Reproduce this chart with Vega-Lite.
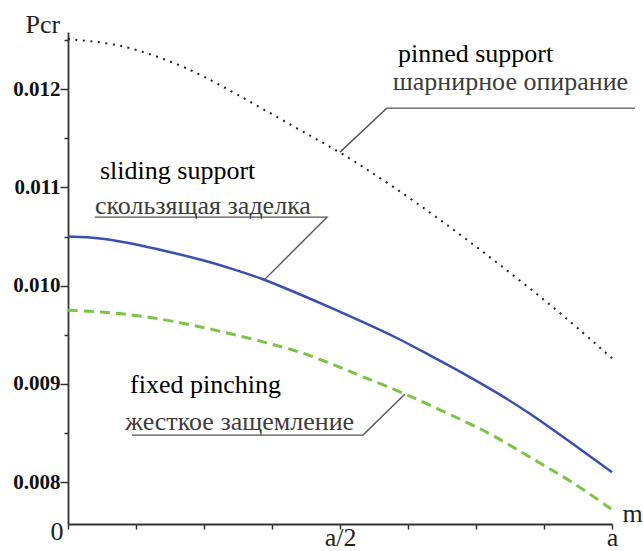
{
  "$schema": "https://vega.github.io/schema/vega-lite/v6.json",
  "autosize": "none",
  "width": 544,
  "height": 492,
  "padding": {"left": 68, "top": 32, "right": 31, "bottom": 27},
  "background": "white",
  "config": {"view": {"stroke": null}},
  "datasets": {
    "curves": [
      {"series": "pinned", "m": 0, "pcr": 0.01251},
      {"series": "pinned", "m": 0.08, "pcr": 0.01247},
      {"series": "pinned", "m": 0.14, "pcr": 0.01238},
      {"series": "pinned", "m": 0.2, "pcr": 0.01226},
      {"series": "pinned", "m": 0.25, "pcr": 0.01213},
      {"series": "pinned", "m": 0.31, "pcr": 0.01195},
      {"series": "pinned", "m": 0.38, "pcr": 0.01173},
      {"series": "pinned", "m": 0.45, "pcr": 0.01151},
      {"series": "pinned", "m": 0.5, "pcr": 0.01136},
      {"series": "pinned", "m": 0.59, "pcr": 0.01104},
      {"series": "pinned", "m": 0.69, "pcr": 0.01065},
      {"series": "pinned", "m": 0.79, "pcr": 0.01023},
      {"series": "pinned", "m": 0.9, "pcr": 0.00975},
      {"series": "pinned", "m": 1.0, "pcr": 0.00926},
      {"series": "sliding", "m": 0, "pcr": 0.0105},
      {"series": "sliding", "m": 0.055, "pcr": 0.01049},
      {"series": "sliding", "m": 0.108, "pcr": 0.01044},
      {"series": "sliding", "m": 0.182, "pcr": 0.01035},
      {"series": "sliding", "m": 0.248, "pcr": 0.01026},
      {"series": "sliding", "m": 0.303, "pcr": 0.01017},
      {"series": "sliding", "m": 0.358, "pcr": 0.01007},
      {"series": "sliding", "m": 0.414, "pcr": 0.00994},
      {"series": "sliding", "m": 0.482, "pcr": 0.00978},
      {"series": "sliding", "m": 0.542, "pcr": 0.00963},
      {"series": "sliding", "m": 0.605, "pcr": 0.00947},
      {"series": "sliding", "m": 0.665, "pcr": 0.00929},
      {"series": "sliding", "m": 0.726, "pcr": 0.00911},
      {"series": "sliding", "m": 0.789, "pcr": 0.00891},
      {"series": "sliding", "m": 0.849, "pcr": 0.0087},
      {"series": "sliding", "m": 0.91, "pcr": 0.00846},
      {"series": "sliding", "m": 1.0, "pcr": 0.0081},
      {"series": "fixed", "m": 0, "pcr": 0.00975},
      {"series": "fixed", "m": 0.077, "pcr": 0.00973},
      {"series": "fixed", "m": 0.151, "pcr": 0.00968},
      {"series": "fixed", "m": 0.23, "pcr": 0.0096},
      {"series": "fixed", "m": 0.322, "pcr": 0.00948},
      {"series": "fixed", "m": 0.421, "pcr": 0.00934},
      {"series": "fixed", "m": 0.482, "pcr": 0.00921},
      {"series": "fixed", "m": 0.542, "pcr": 0.00907},
      {"series": "fixed", "m": 0.616, "pcr": 0.00891},
      {"series": "fixed", "m": 0.697, "pcr": 0.0087},
      {"series": "fixed", "m": 0.776, "pcr": 0.0085},
      {"series": "fixed", "m": 0.849, "pcr": 0.00825},
      {"series": "fixed", "m": 0.923, "pcr": 0.00802},
      {"series": "fixed", "m": 1.0, "pcr": 0.00772}
    ],
    "leaders": [
      {"g": "pinned", "i": 0, "m": 1.042, "pcr": 0.011807},
      {"g": "pinned", "i": 1, "m": 0.586, "pcr": 0.011807},
      {"g": "pinned", "i": 2, "m": 0.5, "pcr": 0.011359},
      {"g": "sliding", "i": 0, "m": 0.0496, "pcr": 0.010697},
      {"g": "sliding", "i": 1, "m": 0.476, "pcr": 0.010697},
      {"g": "sliding", "i": 2, "m": 0.3621, "pcr": 0.010066},
      {"g": "fixed", "i": 0, "m": 0.1176, "pcr": 0.008478},
      {"g": "fixed", "i": 1, "m": 0.5423, "pcr": 0.008478},
      {"g": "fixed", "i": 2, "m": 0.6195, "pcr": 0.008896}
    ],
    "labels": [
      {"text": "pinned support", "lang": "en", "m": 0.6066, "pcr": 0.012275},
      {"text": "шарнирное опирание", "lang": "ru", "m": 0.597, "pcr": 0.011995},
      {"text": "sliding support", "lang": "en", "m": 0.0588, "pcr": 0.011084},
      {"text": "скользящая заделка", "lang": "ru", "m": 0.0496, "pcr": 0.010728},
      {"text": "fixed pinching", "lang": "en", "m": 0.114, "pcr": 0.008906},
      {"text": "жесткое защемление", "lang": "ru", "m": 0.1048, "pcr": 0.008529}
    ],
    "origin": [
      {"text": "0", "m": 0, "pcr": 0.007573}
    ]
  },
  "encoding": {
    "x": {
      "field": "m",
      "type": "quantitative",
      "scale": {"domain": [0, 1], "nice": false, "zero": false},
      "axis": {
        "values": [0, 0.125, 0.25, 0.375, 0.5, 0.625, 0.75, 0.875, 1],
        "labelExpr": "datum.value == 0.5 ? 'a/2' : (datum.value == 1 ? 'a' : '')",
        "labelFlush": false,
        "labelOverlap": false,
        "grid": false,
        "tickSize": 5,
        "tickColor": "#333",
        "tickWidth": 1.5,
        "domainColor": "#333",
        "domainWidth": 1.8,
        "labelFont": "Times New Roman",
        "labelFontSize": 26,
        "labelColor": "#222",
        "labelBaseline": "alphabetic",
        "labelPadding": 16,
        "title": "m",
        "titleFont": "Times New Roman",
        "titleFontSize": 26,
        "titleFontWeight": "normal",
        "titleColor": "#222",
        "titleX": 564,
        "titleY": -3,
        "titleAlign": "center",
        "titleBaseline": "alphabetic"
      }
    },
    "y": {
      "field": "pcr",
      "type": "quantitative",
      "scale": {"domain": [0.007573, 0.012582], "nice": false, "zero": false},
      "axis": {
        "values": [0.008, 0.0085, 0.009, 0.0095, 0.01, 0.0105, 0.011, 0.0115, 0.012, 0.0125],
        "labelExpr": "abs(datum.value*1000 - round(datum.value*1000)) < 0.01 ? format(datum.value, '.3f') : ''",
        "grid": false,
        "tickSize": {"condition": {"test": "abs(datum.value*1000 - round(datum.value*1000)) < 0.01", "value": 8}, "value": 4},
        "tickColor": "#333",
        "tickWidth": 1.5,
        "domainColor": "#333",
        "domainWidth": 1.8,
        "labelFont": "Times New Roman",
        "labelFontSize": 21,
        "labelFontWeight": "bold",
        "labelColor": "#111",
        "labelPadding": 0,
        "labelOverlap": false,
        "title": "Pcr",
        "titleFont": "Times New Roman",
        "titleFontSize": 26,
        "titleFontWeight": "normal",
        "titleColor": "#222",
        "titleAngle": 0,
        "titleX": -43,
        "titleY": 0,
        "titleAlign": "left",
        "titleBaseline": "alphabetic"
      }
    }
  },
  "layer": [
    {
      "data": {"name": "curves"},
      "transform": [{"filter": "datum.series == 'pinned'"}],
      "mark": {"type": "line", "color": "#222", "strokeWidth": 2, "strokeDash": [2, 5.5], "interpolate": "basis"}
    },
    {
      "data": {"name": "curves"},
      "transform": [{"filter": "datum.series == 'sliding'"}],
      "mark": {"type": "line", "color": "#3a4fb0", "strokeWidth": 2.5, "interpolate": "basis"}
    },
    {
      "data": {"name": "curves"},
      "transform": [{"filter": "datum.series == 'fixed'"}],
      "mark": {"type": "line", "color": "#7cc443", "strokeWidth": 3, "strokeDash": [10, 6], "interpolate": "basis"}
    },
    {
      "data": {"name": "leaders"},
      "mark": {"type": "line", "color": "#555", "strokeWidth": 1.4},
      "encoding": {
        "detail": {"field": "g"},
        "order": {"field": "i", "type": "quantitative"}
      }
    },
    {
      "data": {"name": "labels"},
      "mark": {"type": "text", "align": "left", "baseline": "alphabetic", "font": "Times New Roman", "fontSize": 26},
      "encoding": {
        "text": {"field": "text"},
        "color": {"field": "lang", "type": "nominal", "scale": {"domain": ["en", "ru"], "range": ["#000000", "#3c3c3c"]}, "legend": null}
      }
    },
    {
      "data": {"name": "origin"},
      "mark": {"type": "text", "align": "center", "baseline": "alphabetic", "font": "Times New Roman", "fontSize": 26, "color": "#222", "dx": -11, "dy": 16},
      "encoding": {"text": {"field": "text"}}
    }
  ]
}
